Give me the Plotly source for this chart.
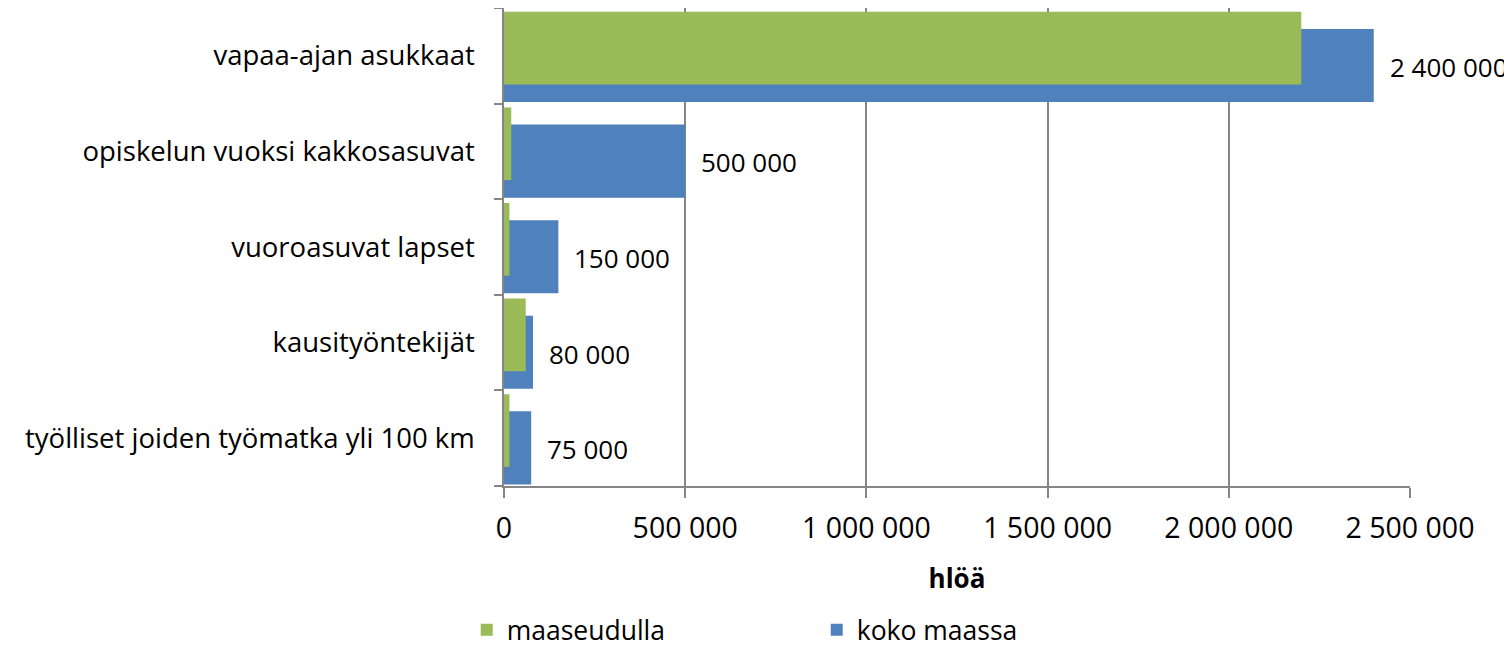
import plotly.graph_objects as go

categories = ["vapaa-ajan asukkaat", "opiskelun vuoksi kakkosasuvat", "vuoroasuvat lapset",
              "kausityöntekijät", "työlliset joiden työmatka yli 100 km"]
maaseudulla = [2200000, 20000, 15000, 60000, 15000]
koko_maassa = [2400000, 500000, 150000, 80000, 75000]
koko_labels = ["2 400 000", "500 000", "150 000", "80 000", "75 000"]
x_ticks = [0, 500000, 1000000, 1500000, 2000000, 2500000]
x_ticklabels = ["0", "500 000", "1 000 000", "1 500 000", "2 000 000", "2 500 000"]

FONT = "Open Sans"
GRID = "#868686"

fig = go.Figure()
fig.add_trace(go.Bar(
    y=categories, x=koko_maassa, orientation="h", name="koko maassa",
    marker=dict(color="#4F81BD", line=dict(width=0)),
    width=0.765, offset=-0.484, legendrank=2,
))
fig.add_trace(go.Bar(
    y=categories, x=maaseudulla, orientation="h", name="maaseudulla",
    marker=dict(color="#9BBB59", line=dict(width=0)),
    width=0.76, offset=-0.30, legendrank=1,
))

for c, v, t in zip(categories, koko_maassa, koko_labels):
    fig.add_annotation(x=v, y=c, text=t, showarrow=False, xanchor="left", yanchor="middle",
                       xshift=14, yshift=-11, font=dict(family=FONT, size=26, color="black"))

fig.update_layout(
    width=1504, height=640,
    margin=dict(l=496, r=102, t=0, b=162, autoexpand=False),
    paper_bgcolor="white", plot_bgcolor="white",
    barmode="overlay",
    font=dict(family=FONT, color="black"),
    showlegend=True,
    legend=dict(orientation="h", xref="container", yref="container",
                x=0.305, xanchor="left", y=0.028, yanchor="middle",
                font=dict(family=FONT, size=26.5), entrywidth=305, traceorder="normal"),
    xaxis=dict(
        range=[0, 2500000], tickvals=x_ticks, ticktext=x_ticklabels,
        showgrid=True, gridcolor=GRID, gridwidth=1.5,
        showline=True, linecolor=GRID, linewidth=1.5,
        ticks="outside", ticklen=10, tickcolor=GRID, tickwidth=1.5,
        tickfont=dict(family=FONT, size=28.5), ticklabelstandoff=6,
        zeroline=False,
        title=dict(text="<b>hlöä</b>", font=dict(family=FONT, size=26), standoff=25),
    ),
    yaxis=dict(
        categoryorder="array", categoryarray=list(reversed(categories)),
        range=[-0.5, 4.5],
        showline=True, linecolor=GRID, linewidth=1.5,
        ticks="outside", ticklen=8, tickcolor=GRID, tickwidth=1.5,
        tickson="boundaries", showgrid=False,
        tickfont=dict(family=FONT, size=27.5), ticklabelstandoff=22,
    ),
)

fig.write_html("out.html")
